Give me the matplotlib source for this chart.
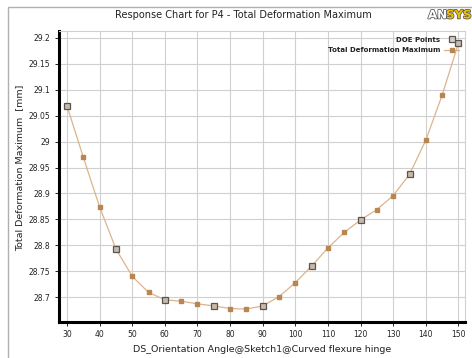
import numpy as np
import matplotlib
matplotlib.use("Agg")
import matplotlib.pyplot as plt
from matplotlib.patches import Rectangle
import matplotlib.patheffects as pe

# response curve samples (every 5 deg) and the DOE design points
angle = [30, 35, 40, 45, 50, 55, 60, 65, 70, 75, 80, 85, 90,
         95, 100, 105, 110, 115, 120, 125, 130, 135, 140, 145, 150]
deformation = [29.069, 28.970, 28.874, 28.793, 28.740, 28.709, 28.695, 28.692,
               28.687, 28.683, 28.678, 28.677, 28.683, 28.701, 28.728, 28.760,
               28.795, 28.825, 28.849, 28.869, 28.896, 28.937, 29.003, 29.090,
               29.190]
doe_angle = [30, 45, 60, 75, 90, 105, 120, 135, 150]
doe_deformation = [29.069, 28.793, 28.695, 28.683, 28.683, 28.760, 28.849, 28.937, 29.190]

x_ticks = list(range(30, 151, 10))
y_ticks = [28.7, 28.75, 28.8, 28.85, 28.9, 28.95, 29.0, 29.05, 29.1, 29.15, 29.2]
y_tick_labels = ["28.7", "28.75", "28.8", "28.85", "28.9", "28.95", "29",
                 "29.05", "29.1", "29.15", "29.2"]

fig = plt.figure(figsize=(4.72, 3.58), dpi=100)
ax = fig.add_axes([58.5 / 472, 1 - 322 / 358, (465 - 58.5) / 472, (322 - 31) / 358])

# outer panel border
fig.patches.append(Rectangle((8 / 472, -0.1), 1.2, 1 - 7 / 358 + 0.1,
                             transform=fig.transFigure, fill=False,
                             edgecolor="#b0b0b0", linewidth=1.0))

line_col = "#dcb48c"
mark_col = "#b88650"
ax.plot(angle, deformation, color=line_col, linewidth=0.9, marker="s",
        markersize=2.3, markerfacecolor=mark_col, markeredgecolor=mark_col,
        label="Total Deformation Maximum", zorder=3)
ax.plot(doe_angle, doe_deformation, linestyle="none", marker="s", markersize=4.6,
        markerfacecolor=(0.82, 0.78, 0.74, 0.8), markeredgecolor="#555555",
        markeredgewidth=0.9, label="DOE Points", zorder=4)

ax.set_xlim(27.4, 152)
ax.set_ylim(28.652, 29.2135)
ax.set_xticks(x_ticks)
ax.set_yticks(y_ticks)
ax.set_yticklabels(y_tick_labels)
ax.tick_params(labelsize=5.5, colors="#222222", length=3, width=0.7, pad=3)
ax.grid(True, color="#d0d0d0", linewidth=0.8)
ax.set_axisbelow(True)

for side in ("left", "bottom"):
    ax.spines[side].set_linewidth(2.2)
    ax.spines[side].set_color("black")
for side in ("top", "right"):
    ax.spines[side].set_linewidth(0.8)
    ax.spines[side].set_color("#d0d0d0")

ax.set_xlabel("DS_Orientation Angle@Sketch1@Curved flexure hinge",
              fontsize=6.8, color="#222222", labelpad=4)
ax.set_ylabel("Total Deformation Maximum  [mm]", fontsize=6.8, color="#222222")
ax.yaxis.set_label_coords(-0.085, 0.53)

fig.text(243 / 472, 1 - 15 / 358, "Response Chart for P4 - Total Deformation Maximum",
         ha="center", va="center", fontsize=7, color="#222222")

# logo
stroke = [pe.withStroke(linewidth=1.1, foreground="#555555")]
fig.text(428 / 472, 1 - 15 / 358, "AN", ha="left", va="center", fontsize=8.5,
         fontweight="bold", color="white", path_effects=stroke)
fig.text(446 / 472, 1 - 15 / 358, "SYS", ha="left", va="center", fontsize=8.5,
         fontweight="bold", color="#f0c000", path_effects=stroke)

handles, labels = ax.get_legend_handles_labels()
leg = ax.legend(handles[::-1], labels[::-1], loc="upper right",
                bbox_to_anchor=(1.0, 1.0), frameon=False, fontsize=5,
                markerfirst=False, handlelength=2.2, handletextpad=0.6,
                borderaxespad=0.4, labelspacing=0.7)
for t in leg.get_texts():
    t.set_fontweight("bold")
    t.set_color("#222222")

fig.savefig("out.png", dpi=100)
